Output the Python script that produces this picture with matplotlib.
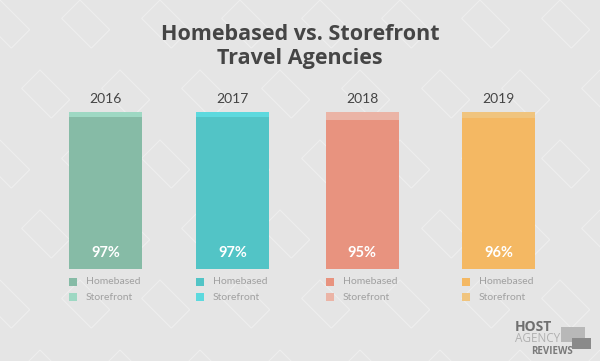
import matplotlib
matplotlib.use('Agg')
import matplotlib.pyplot as plt
from matplotlib.patches import Rectangle

years = ['2016', '2017', '2018', '2019']
homebased = [97, 97, 95, 96]
storefront = [3, 3, 5, 4]
home_colors = ['#86bba6', '#52c4c6', '#e8937f', '#f4b863']
store_colors = ['#9ed8c3', '#5dd9de', '#ebb4a6', '#f0c47e']
centers = [105.5, 232.5, 362, 498.5]
bar_w = 73

bg = '#e5e5e5'
fig = plt.figure(figsize=(6, 3.61), dpi=100, facecolor=bg)

# faint background pattern of tilted outlines
bgax = fig.add_axes([0, 0, 1, 1], zorder=-5)
bgax.set_xlim(0, 600)
bgax.set_ylim(361, 0)
bgax.axis('off')
for row in range(-1, 6):
    for col in range(-1, 9):
        x = col * 80 + (row % 2) * 40
        y = row * 70
        bgax.add_patch(Rectangle((x, y), 42, 26, angle=45, fill=False,
                                 ec='white', lw=0.8, alpha=0.35))

fig.text(0.5, 0.905, 'Homebased vs. Storefront', ha='center', va='center',
         fontsize=15.5, fontweight='bold', color='#454545', family='Open Sans')
fig.text(0.5, 0.838, 'Travel Agencies', ha='center', va='center',
         fontsize=15.5, fontweight='bold', color='#454545', family='Open Sans')

# axes: y=0 at pixel 269, y=100 at pixel 112
ax = fig.add_axes([0, (361 - 269) / 361, 1, 157 / 361])
ax.set_xlim(0, 600)
ax.set_ylim(0, 100)
ax.axis('off')

ax.bar(centers, homebased, width=bar_w, color=home_colors, linewidth=0)
ax.bar(centers, storefront, width=bar_w, bottom=homebased, color=store_colors, linewidth=0)

for c, yr, h in zip(centers, years, homebased):
    ax.text(c, 104.5, yr, ha='center', va='bottom', fontsize=10,
            color='#444444', family='Lato')
    ax.text(c, 10.5, f'{h}%', ha='center', va='center', fontsize=10.5,
            fontweight='bold', color='white', family='Lato')

# legends under each bar
for c, hc, sc in zip(centers, home_colors, store_colors):
    x0 = c - bar_w / 2
    for i, (lab, col) in enumerate([('Homebased', hc), ('Storefront', sc)]):
        ypx = 282 + i * 15
        yf = (361 - ypx) / 361
        fig.patches.append(Rectangle((x0 / 600, yf - 4 / 361), 8 / 600, 8 / 361,
                                     transform=fig.transFigure, color=col, lw=0))
        fig.text((x0 + 17) / 600, yf, lab, ha='left', va='center', fontsize=7.5,
                 color='#a0a0a0', family='Lato')

# logo
fig.text(515 / 600, (361 - 327) / 361, 'HOST', ha='left', va='center', fontsize=10,
         fontweight='bold', color='#6f6f6f', family='Open Sans')
fig.text(515 / 600, (361 - 339) / 361, 'AGENCY', ha='left', va='center', fontsize=8.5,
         color='#b0b0b0', family='Open Sans')
fig.text(531 / 600, (361 - 351) / 361, 'REVIEWS', ha='left', va='center', fontsize=7,
         fontweight='bold', color='#7a7a7a', family='Open Sans')
fig.patches.append(Rectangle((561 / 600, (361 - 342) / 361), 24 / 600, 15 / 361,
                             transform=fig.transFigure, color='#b8b8b8', lw=0))
fig.patches.append(Rectangle((572 / 600, (361 - 349) / 361), 19 / 600, 11 / 361,
                             transform=fig.transFigure, color='#8a8a8a', lw=0))

fig.savefig('out.png', dpi=100, facecolor=bg)
